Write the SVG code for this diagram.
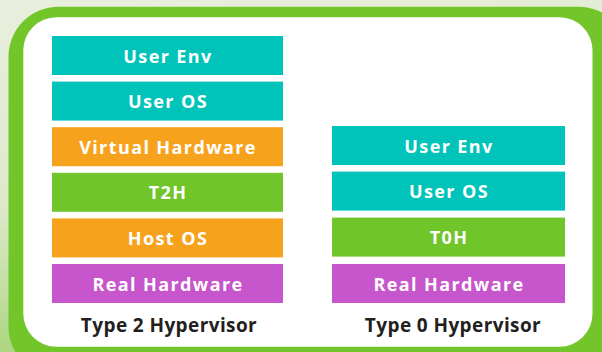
<svg xmlns="http://www.w3.org/2000/svg" width="602" height="352" viewBox="0 0 602 352">
  <defs>
    <linearGradient id="bg" x1="0" y1="0" x2="0.25" y2="1">
      <stop offset="0" stop-color="#e9efdd"/>
      <stop offset="0.55" stop-color="#dde9cb"/>
      <stop offset="1" stop-color="#a6d377"/>
    </linearGradient>
    <style>
      .box { stroke: none; }
      .teal { fill: #00c4b9; }
      .orange { fill: #f7a21d; }
      .green { fill: #6fc52a; }
      .purple { fill: #c755cc; }
      .lbl { font-family: "Open Sans", "Liberation Sans", sans-serif; font-weight: 700; font-size: 18px; letter-spacing: 1.4px; fill: #ffffff; text-anchor: middle; }
      .title { font-family: "Open Sans", "Liberation Sans", sans-serif; font-weight: 700; font-size: 19px; letter-spacing: 0.4px; fill: #231f20; text-anchor: middle; }
    </style>
  </defs>

  <!-- backdrop and frame -->
  <rect x="0" y="0" width="602" height="352" fill="url(#bg)"/>
  <rect x="8.5" y="6.7" width="620" height="370" rx="50" fill="#72c62a"/>
  <rect x="23.3" y="17.3" width="569.2" height="329.4" rx="33" fill="#ffffff"/>

  <!-- Type 2 stack -->
  <g id="t2-user-env"><rect class="box teal" x="52" y="36" width="231" height="39"/><text class="lbl" x="168" y="62.6">User Env</text></g>
  <g id="t2-user-os"><rect class="box teal" x="52" y="81.6" width="231" height="39"/><text class="lbl" x="168" y="108.2">User OS</text></g>
  <g id="t2-virtual-hw"><rect class="box orange" x="52" y="127.2" width="231" height="39"/><text class="lbl" x="168" y="153.8">Virtual Hardware</text></g>
  <g id="t2h"><rect class="box green" x="52" y="172.8" width="231" height="39"/><text class="lbl" x="168" y="199.4">T2H</text></g>
  <g id="t2-host-os"><rect class="box orange" x="52" y="218.4" width="231" height="39"/><text class="lbl" x="168" y="245">Host OS</text></g>
  <g id="t2-real-hw"><rect class="box purple" x="52" y="264" width="231" height="39"/><text class="lbl" x="168" y="290.6">Real Hardware</text></g>
  <g id="t2-title"><text class="title" x="169" y="332">Type 2 Hypervisor</text></g>

  <!-- Type 0 stack -->
  <g id="t0-user-env"><rect class="box teal" x="332" y="126" width="233" height="39"/><text class="lbl" x="449" y="152.6">User Env</text></g>
  <g id="t0-user-os"><rect class="box teal" x="332" y="171.6" width="233" height="39"/><text class="lbl" x="449" y="198.2">User OS</text></g>
  <g id="t0h"><rect class="box green" x="332" y="217.6" width="233" height="39"/><text class="lbl" x="449" y="244.2">T0H</text></g>
  <g id="t0-real-hw"><rect class="box purple" x="332" y="264" width="233" height="39"/><text class="lbl" x="449" y="290.6">Real Hardware</text></g>
  <g id="t0-title"><text class="title" x="453" y="332">Type 0 Hypervisor</text></g>

  <g id="connectors"/>
</svg>
